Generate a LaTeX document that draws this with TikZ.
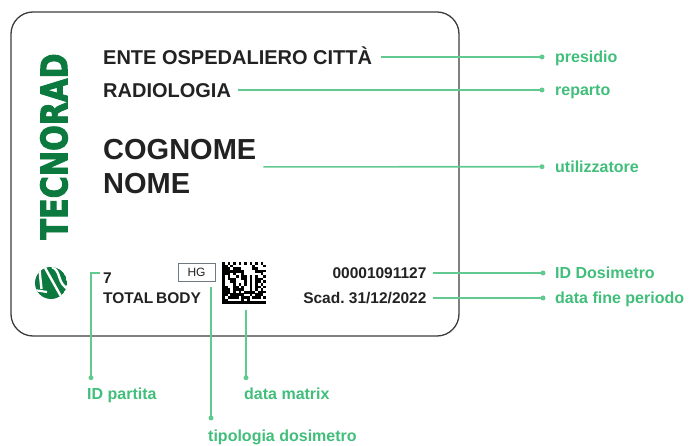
\documentclass[tikz,border=0pt]{standalone}
\usepackage{fontspec}
\usepackage{graphicx}
\setmainfont{Liberation Sans}
\newfontfamily\brandfont{DejaVu Sans}
\definecolor{labgreen}{RGB}{64,190,122}
\definecolor{linegreen}{RGB}{98,202,144}
\definecolor{logogreen}{RGB}{12,122,62}
\definecolor{txtcol}{RGB}{34,34,34}
\definecolor{bordercol}{RGB}{60,60,60}
\definecolor{hgcol}{RGB}{110,122,128}
\tikzset{
  cardst/.style={draw=bordercol, line width=1.3pt, rounded corners=22pt},
  bigtxt/.style={anchor=west, inner sep=0pt, text=txtcol, font=\bfseries\fontsize{20}{24}\selectfont, text height=14.3pt, text depth=0pt},
  hugetxt/.style={anchor=west, inner sep=0pt, text=txtcol, font=\bfseries\fontsize{29}{34}\selectfont, text height=21pt, text depth=0pt},
  smalltxt/.style={inner sep=0pt, text=txtcol, font=\bfseries\fontsize{15.5}{18}\selectfont, text height=11.1pt, text depth=0pt},
  glabel/.style={inner sep=0pt, text=labgreen, font=\bfseries\fontsize{16}{19}\selectfont, text height=11.5pt, text depth=0pt},
  gdot/.style={circle, fill=linegreen, inner sep=0pt, minimum size=5pt},
  conn/.style={draw=linegreen, line width=1.6pt},
  hgbox/.style={draw=hgcol, line width=0.8pt, inner sep=0pt, minimum width=37pt, minimum height=18pt, text=txtcol, font=\fontsize{12}{14}\selectfont},
}
\frenchspacing
\begin{document}
\begin{tikzpicture}[x=1pt,y=-1pt]
\useasboundingbox (0,0) rectangle (689,446);
% card
\draw[cardst] (11,12) rectangle (459,336);
% brand
\node[rotate=90, text=logogreen, inner sep=0pt] (brand) at (54,146.5) {\resizebox{186pt}{27pt}{\brandfont\bfseries\fontsize{37}{40}\selectfont\special{pdf:literal direct 2 Tr 1.1 w}TECNORAD\special{pdf:literal direct 0 Tr}}};
% logo icon
\begin{scope}
  \clip (51,283) circle [radius=16pt];
  \fill[logogreen] (51,283) circle [radius=16pt];
  \draw[white, line width=2.4pt] (39.5,270) -- (41.5,289);
  \draw[white, line width=2.4pt] (44,266) -- (63,300);
  \draw[white, line width=2.4pt] (52,267) .. controls (62,271) and (56,284) .. (70,290);
  \draw[white, line width=2.2pt] (34,290) -- (47,292);
\end{scope}
% card texts
\node[bigtxt] (ente) at (103,57) {ENTE OSPEDALIERO CITTÀ};
\node[bigtxt] (radio) at (103,90) {RADIOLOGIA};
\node[hugetxt] (cognome) at (103,149.5) {COGNOME};
\node[hugetxt] (nome) at (103,183) {NOME};
\node[smalltxt, anchor=west] (seven) at (103,277.5) {7};
\node[smalltxt, anchor=west] (total) at (103,297.5) {TOTAL\kern-1.5pt\ BODY};
\node[hgbox] (hg) at (196.5,272) {HG};
\node[smalltxt, anchor=east] (idnum) at (426.7,273) {00001091127};
\node[smalltxt, anchor=east] (scad) at (426.7,298) {Scad. 31/12/2022};
% data matrix
\begin{scope}[shift={(222,262)}]
  \pgfmathsetseed{4217}
  \fill[black] (0,0) rectangle (2.75,42);
  \fill[black] (0,39.375) rectangle (44,42);
  \foreach \i in {0,2,...,14} \fill[black] ({\i*2.75},0) rectangle ++(2.75,2.625);
  \foreach \j in {1,3,...,13} \fill[black] ({15*2.75},{\j*2.625}) rectangle ++(2.75,2.625);
  \foreach \i in {1,...,14}{
    \foreach \j in {1,...,14}{
      \pgfmathtruncatemacro\v{rnd>0.5}
      \ifnum\v=1 \fill[black] ({\i*2.75},{\j*2.625}) rectangle ++(2.76,2.635);\fi
    }
  }
\end{scope}
\coordinate (dm) at (246,304);
% dots and labels right
\node[gdot] (pdot) at (542,57) {};
\node[gdot] (rdot) at (542,90) {};
\node[gdot] (udot) at (542,166.7) {};
\node[gdot] (idot) at (543,273) {};
\node[gdot] (fdot) at (543,298) {};
\node[glabel, anchor=west] (presidio) at (555,57) {presidio};
\node[glabel, anchor=west] (reparto) at (555,90) {reparto};
\node[glabel, anchor=west] (utiliz) at (555,166.7) {utilizzatore};
\node[glabel, anchor=west] (iddos) at (555,273) {ID Dosimetro};
\node[glabel, anchor=west] (datafine) at (555,298) {data fine periodo};
% bottom dots and labels
\node[gdot] (padot) at (91,377.7) {};
\node[gdot] (tdot) at (211,418) {};
\node[gdot] (mdot) at (246,377.7) {};
\node[glabel, anchor=base west] (idpart) at (87,400) {ID partita};
\node[glabel, anchor=base west] (dmlab) at (244,400) {data matrix};
\node[glabel, anchor=base west] (tipo) at (208,441.5) {tipologia dosimetro};
% connectors
\draw[conn, shorten <=9pt] (ente.east) -- (pdot.center);
\draw[conn, shorten <=7pt] (radio.east) -- (rdot.center);
\draw[conn] ([shift={(7,6.7)}]cognome.south east) -- (udot.center);
\draw[conn, shorten <=6pt] (idnum.east) -- (idot.center);
\draw[conn, shorten <=6pt] (scad.east) -- (fdot.center);
\draw[conn] ([shift={(-3,-4.5)}]seven.west) -| (padot.center);
\draw[conn, shorten <=6pt] (hg.south -| tdot) -- (tdot.center);
\draw[conn, shorten <=6pt] (dm) -- (mdot.center);
\end{tikzpicture}
\end{document}
